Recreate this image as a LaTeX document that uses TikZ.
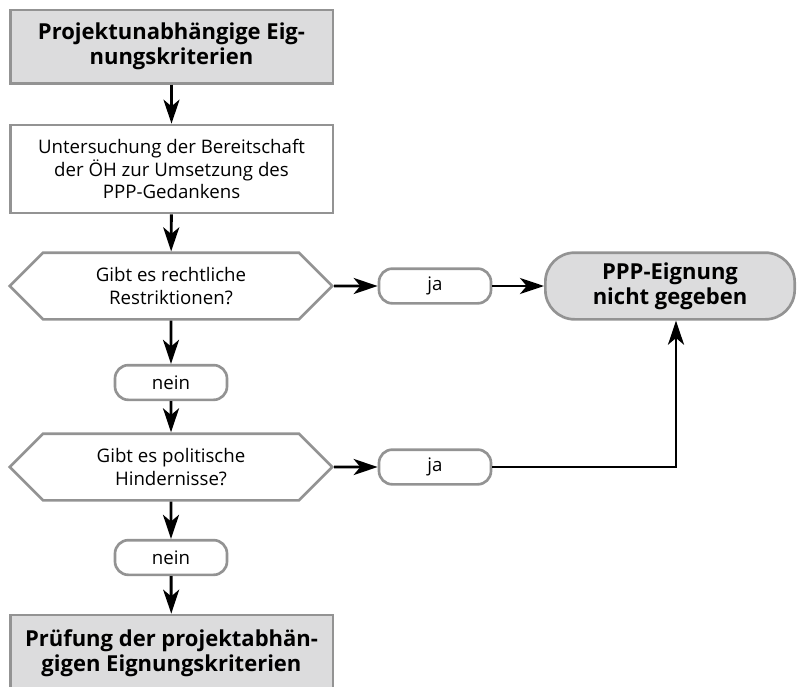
\documentclass[tikz,border=0pt]{standalone}
\usepackage{fontspec}
\setmainfont{Open Sans}
\usepackage{tikz}
\usetikzlibrary{arrows.meta}
\usetikzlibrary{shapes.symbols}
\definecolor{boxgray}{HTML}{DCDCDD}
\definecolor{framegray}{HTML}{939393}

\begin{document}
\begin{tikzpicture}[x=0.75pt,y=-0.75pt,
  shape box/.style={draw=framegray,line width=2pt,align=center,inner sep=0pt,
    font=\fontsize{14}{17}\selectfont},
  plainbox/.style={shape box,minimum width=242pt,minimum height=66pt},
  headbox/.style={shape box,fill=boxgray,minimum width=242pt,minimum height=55pt,
    font=\fontsize{16.5}{19}\selectfont\bfseries},
  query/.style={shape box,signal,signal to=west and east,signal pointer angle=90,
    minimum width=242pt,minimum height=50pt},
  answer/.style={shape box,rounded corners=10pt,minimum width=84pt,minimum height=26pt},
  result/.style={shape box,fill=boxgray,rounded corners=22pt,minimum width=187pt,
    minimum height=50pt,font=\fontsize{16.5}{19}\selectfont\bfseries},
  flow/.style={black,line width=2.2pt,-{Stealth[length=18pt,width=12pt,inset=5pt]}}]
\useasboundingbox (0,0) rectangle (803,686);
\clip (0,0) rectangle (803,686);

\node[headbox] (kriterien) at (171.5,46.5) {Projektunabhängige Eig-\\nungskriterien};
\node[plainbox] (bereitschaft) at (171.5,169) {Untersuchung der Bereitschaft\\der ÖH zur Umsetzung des\\PPP-Gedanken{s}};
\node[query] (recht) at (171,286) {Gibt es rechtliche\\Restriktionen?};
\node[answer] (ja1) at (435,286) {ja};
\node[result] (ungeeignet) at (670,286) {PPP-Eignung\\nicht gegeben};
\node[answer] (nein1) at (171,382.5) {nein};
\node[query] (politik) at (171,467) {Gibt es politische\\Hindernisse?};
\node[answer] (ja2) at (435,467) {ja};
\node[answer] (nein2) at (171,557.5) {nein};
\node[headbox,minimum height=57pt] (projekt) at (171.5,653) {Prüfung der projektabhän-\\gigen Eignungskriterien};
\coordinate (knick) at (676,467);

\draw[flow] (kriterien) -- (bereitschaft);
\draw[flow] (bereitschaft) -- (recht);
\draw[flow] (recht) -- (ja1);
\draw[flow] (ja1) -- (ungeeignet);
\draw[flow] (recht) -- (nein1);
\draw[flow] (nein1) -- (politik);
\draw[flow] (politik) -- (ja2);
\draw[flow] (ja2) -- (knick) -- (ungeeignet.south -| knick);
\draw[flow] (politik) -- (nein2);
\draw[flow] (nein2) -- (projekt);

\end{tikzpicture}
\end{document}
